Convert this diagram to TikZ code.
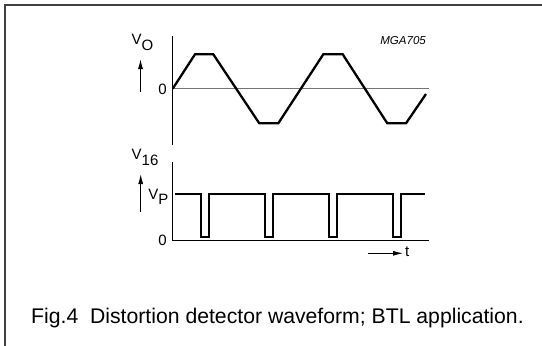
\documentclass[tikz,border=0pt]{standalone}
\usepackage{fontspec}
\setmainfont{Liberation Sans}
\usetikzlibrary{arrows.meta}
\tikzset{l/.style={font=\fontsize{15}{15}\selectfont, inner sep=0pt}}
\tikzset{m/.style={font=\fontsize{11.5}{11.5}\selectfont\itshape, inner sep=0pt}}
\tikzset{figcap/.style={font=\fontsize{21.2}{21.2}\selectfont, inner sep=0pt}}
\tikzset{wave/.style={line width=2.3pt, line join=miter}}
\tikzset{up/.style={-{Latex[length=10pt,width=5pt]}, line width=1pt}}

\begin{document}
\begin{tikzpicture}[x=1pt, y=-1pt]
  \useasboundingbox (0,0) rectangle (542,346);
  \draw[line width=1.4pt, black!75] (5,346) -- (5,5) -- (542,5);
  % output voltage
  \coordinate (OT) at (172.7,36);
  \coordinate (OB) at (172.7,145);
  \coordinate (OZ) at (172.7,88.7);
  \coordinate (OE) at (429.3,88.7);
  \draw[line width=1pt] (OT) -- (OB);
  \draw[line width=1pt, black!55] (OZ) -- (OE);
  \draw[wave] (OZ) -- (195,54.3) -- (213.3,54.3) -- (259.3,123.3) -- (278.3,123.3)
    -- (323.3,54.3) -- (342.7,54.3) -- (387.3,123.3) -- (406,123.3) -- (426,94);
  \node[l, anchor=east] (O0) at (167,89) {0};
  \coordinate (OA1) at (140.5,92);
  \coordinate (OA2) at (140.5,59);
  \draw[up] (OA1) -- (OA2);
  \node[l, anchor=south west] (VO) at (131.5,51) {V\raisebox{-6pt}{O}};
  \node[m, anchor=north east] (code) at (426,36.5) {MGA705};
  % pin 16 voltage
  \coordinate (PT) at (172.7,161.7);
  \coordinate (PZ) at (172.7,240);
  \coordinate (PE) at (429,240);
  \draw[line width=1pt] (PT) -- (PZ) -- (PE);
  \draw[wave] (175,194.3)
    \foreach \p in {200.7,264.9,329.1,393.3} { -- (\p,194.3) -- (\p,236.7) -- (\p+8,236.7) -- (\p+8,194.3) }
    -- (425,194.3);
  \node[l, anchor=east] (P0) at (167,240) {0};
  \node[l, anchor=east] (VP) at (168.5,197) {V\raisebox{-5pt}{P}};
  \coordinate (PA1) at (140.7,212);
  \coordinate (PA2) at (140.7,174);
  \draw[up] (PA1) -- (PA2);
  \node[l, anchor=south west] (V16) at (131.5,166) {V\raisebox{-6pt}{16}};
  \coordinate (TA1) at (368,253.3);
  \coordinate (TA2) at (403,253.3);
  \draw[-{Latex[length=10pt,width=5pt]}, line width=1pt] (TA1) -- (TA2);
  \node[l, anchor=west] (t) at (405,252) {t};
  \node[figcap, anchor=base west] (caption) at (31,323) {Fig.4\ \ Distortion detector waveform; BTL application.};
\end{tikzpicture}
\end{document}
